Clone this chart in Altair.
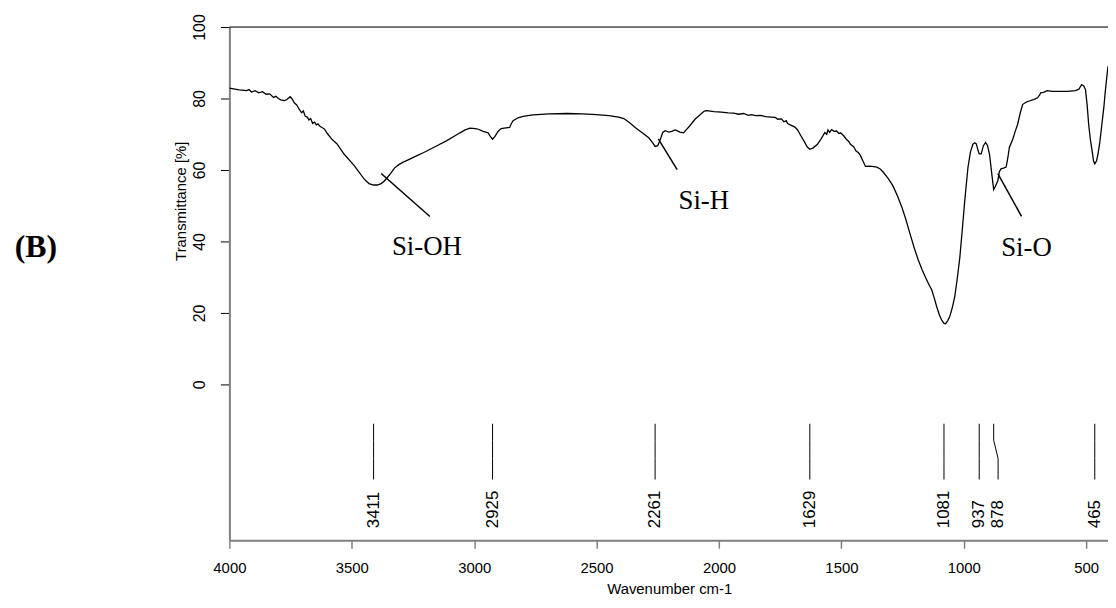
import altair as alt
import pandas as pd

# ---------------- data ----------------
WAVENUMBER = [
    4000, 3960, 3930, 3920, 3910, 3895, 3880, 3865, 3850, 3835,
    3820, 3810, 3800, 3790, 3775, 3765, 3752, 3745, 3735, 3725,
    3715, 3705, 3698, 3690, 3682, 3675, 3668, 3660, 3652, 3645,
    3638, 3630, 3620, 3612, 3600, 3580, 3560, 3531, 3490, 3450,
    3430, 3411, 3396, 3380, 3369, 3355, 3342, 3325, 3308, 3290,
    3274, 3240, 3206, 3160, 3112, 3080, 3058, 3037, 3017, 2995,
    2983, 2963, 2943, 2935, 2925, 2915, 2909, 2900, 2890, 2870,
    2855, 2848, 2841, 2821, 2800, 2760, 2693, 2620, 2558, 2500,
    2450, 2410, 2389, 2365, 2341, 2315, 2287, 2270, 2261, 2250,
    2240, 2230, 2220, 2205, 2193, 2180, 2172, 2160, 2145, 2120,
    2098, 2075, 2060, 2051, 2020, 1990, 1963, 1940, 1920, 1900,
    1880, 1868, 1850, 1830, 1810, 1787, 1770, 1760, 1745, 1735,
    1725, 1720, 1705, 1690, 1679, 1665, 1652, 1640, 1629, 1615,
    1598, 1585, 1575, 1568, 1560, 1555, 1548, 1540, 1530, 1520,
    1510, 1503, 1490, 1480, 1470, 1463, 1450, 1440, 1430, 1422,
    1412, 1402, 1390, 1375, 1355, 1340, 1328, 1310, 1295, 1287,
    1270, 1253, 1236, 1220, 1203, 1186, 1170, 1152, 1140, 1131,
    1120, 1111, 1100, 1091, 1081, 1075, 1066, 1057, 1047, 1037,
    1027, 1016, 1006, 996, 989, 983, 973, 963, 955, 949,
    942, 937, 929, 920, 911, 903, 895, 885, 878, 872,
    861, 855, 848, 838, 827, 820, 814, 800, 790, 780,
    770, 760, 745, 733, 715, 699, 690, 686, 675, 659,
    640, 611, 575, 544, 530, 519, 510, 503, 496, 490,
    483, 476, 470, 465, 458, 452, 444, 436, 428, 422,
    416, 411,
]
TRANSMITTANCE = [
    82.9, 82.4, 82.2, 82.5, 81.8, 82.2, 81.6, 81.9, 81.2, 81.3,
    80.3, 80.6, 80.0, 79.6, 79.4, 79.7, 80.5, 80.0, 78.8, 78.2,
    77.0, 76.0, 76.5, 75.0, 74.8, 74.0, 74.4, 73.0, 73.4, 72.6,
    72.9, 72.2, 71.8, 71.5, 70.2, 68.5, 67.3, 64.4, 61.2, 57.5,
    56.2, 55.8, 55.8, 56.2, 56.8, 57.9, 59.0, 60.6, 61.5, 62.2,
    62.7, 63.8, 64.9, 66.5, 68.2, 69.5, 70.4, 71.2, 71.7, 71.6,
    71.4, 70.8, 70.4, 69.5, 68.6, 69.4, 70.1, 71.0, 71.6, 71.8,
    71.9, 73.0, 73.8, 74.6, 75.0, 75.4, 75.7, 75.8, 75.7, 75.5,
    75.2, 74.8, 74.4, 73.2, 71.8, 70.5, 69.0, 67.5, 66.6, 66.8,
    68.5, 70.5, 71.0, 70.6, 70.8, 71.2, 71.0, 70.6, 70.4, 72.3,
    74.2, 75.6, 76.5, 76.6, 76.3, 76.2, 76.0, 75.9, 75.6, 75.8,
    75.3, 75.5, 75.2, 75.3, 74.9, 74.8, 74.7, 74.2, 74.3, 73.5,
    73.8, 73.0, 72.5, 72.0, 71.2, 69.5, 68.0, 66.5, 65.8, 66.2,
    67.2, 68.5, 69.6, 70.5, 70.0, 71.2, 70.5, 71.3, 70.8, 70.9,
    70.2, 70.4, 69.5, 68.6, 68.0, 67.2, 66.5, 65.3, 64.8, 64.0,
    62.5, 61.0, 61.1, 61.0, 60.8, 60.2, 59.3, 57.7, 56.2, 55.2,
    52.6, 49.6, 46.0, 42.2, 38.3, 34.8, 32.0, 29.3, 27.6, 26.5,
    24.0, 21.8, 19.5, 18.1, 17.1, 17.0, 17.8, 19.1, 21.5, 24.6,
    29.5, 35.7, 43.5, 51.5, 56.5, 60.7, 65.0, 67.2, 67.6, 67.3,
    65.5, 64.5, 64.5, 66.8, 67.7, 66.8, 64.4, 58.5, 54.5, 55.3,
    57.0, 59.5, 60.3, 60.5, 60.8, 63.5, 66.3, 68.6, 70.8, 72.8,
    75.8, 78.3, 79.0, 79.3, 79.7, 80.2, 81.0, 81.6, 81.7, 82.2,
    82.0, 82.0, 82.0, 82.2, 82.6, 83.9, 83.5, 82.5, 78.0, 72.8,
    68.5, 65.4, 62.5, 61.7, 62.5, 64.4, 68.0, 72.8, 77.5, 82.0,
    86.0, 89.0,
]

PEAKS = [3411, 2925, 2261, 1629, 1081, 937, 878, 465]
PEAK_LABEL_POS = [3411, 2925, 2261, 1629, 1081, 937, 860, 465]

ANNOT_TEXT = ["Si-OH", "Si-H", "Si-O"]
ANNOT_X1 = [3380, 2248, 861]
ANNOT_Y1 = [59.0, 68.7, 59.0]
ANNOT_X2 = [3181, 2171, 764]
ANNOT_Y2 = [47.0, 60.1, 47.0]
ANNOT_TX = [3193, 2062, 744]
ANNOT_TY = [38.4, 51.2, 38.1]

X_TICKS = [4000, 3500, 3000, 2500, 2000, 1500, 1000, 500]
Y_TICKS = [0, 20, 40, 60, 80, 100]

# ---------------- tables ----------------
spec = pd.DataFrame({"x": WAVENUMBER, "y": TRANSMITTANCE})

peak_rows = []
for p, lp in zip(PEAKS, PEAK_LABEL_POS):
    peak_rows += [
        {"peak": p, "o": 0, "x": p, "y": -11.0},
        {"peak": p, "o": 1, "x": p, "y": -15.6},
        {"peak": p, "o": 2, "x": lp, "y": -20.7},
        {"peak": p, "o": 3, "x": lp, "y": -26.6},
    ]
peak_lines = pd.DataFrame(peak_rows)
peak_text = pd.DataFrame({"x": PEAK_LABEL_POS, "y": [-40.2] * len(PEAKS),
                          "label": [str(p) for p in PEAKS]})

ann_rows = []
for i, t in enumerate(ANNOT_TEXT):
    ann_rows += [{"id": t, "o": 0, "x": ANNOT_X1[i], "y": ANNOT_Y1[i]},
                 {"id": t, "o": 1, "x": ANNOT_X2[i], "y": ANNOT_Y2[i]}]
ann_lines = pd.DataFrame(ann_rows)
ann_text = pd.DataFrame({"x": ANNOT_TX, "y": ANNOT_TY, "label": ANNOT_TEXT})
top_border = pd.DataFrame({"y": [100]})

# ---------------- scales / axes ----------------
xs = alt.Scale(domain=[411, 4000], reverse=True, nice=False, zero=False)
ys = alt.Scale(domain=[-43.6, 100], nice=False, zero=False)

FONT = "Liberation Sans"
xaxis = alt.Axis(
    values=X_TICKS, format="d", title="Wavenumber cm-1", grid=False,
    domainColor="#808080", domainWidth=2, tickColor="#808080", tickWidth=1.5,
    tickSize=8, labelFont=FONT, labelFontSize=15, labelColor="black",
    labelPadding=12, labelFlush=False, labelOverlap=False,
    titleFont=FONT, titleFontSize=15, titleFontWeight="normal", titleColor="black",
    titleX=443, titleY=49, titleBaseline="middle", titleAlign="center",
    titleAnchor="start",
)
yaxis = alt.Axis(
    values=Y_TICKS, format="d", title="Transmittance [%]", grid=False,
    domainColor="#808080", domainWidth=2, tickColor="black", tickWidth=1,
    tickSize=9, labelFont=FONT, labelFontSize=16, labelColor="black",
    labelAngle=270, labelAlign="center", labelBaseline="alphabetic",
    labelPadding=16, labelFlush=False, labelOverlap=False,
    titleFont=FONT, titleFontSize=15, titleFontWeight="normal", titleColor="black",
    titleAngle=270, titleX=-49, titleY=175, titleAlign="center",
    titleBaseline="middle", titleAnchor="start",
)


def X():
    return alt.X("x:Q", scale=xs, axis=xaxis)


def Y():
    return alt.Y("y:Q", scale=ys, axis=yaxis)


spectrum = alt.Chart(spec).mark_line(color="black", strokeWidth=1.3, clip=True).encode(
    x=X(), y=Y(), order="x:Q")

border = alt.Chart(top_border).mark_rule(color="black", strokeWidth=1).encode(y=Y())

plines = alt.Chart(peak_lines).mark_line(color="black", strokeWidth=1).encode(
    x=X(), y=Y(), detail="peak:N", order="o:Q")

ptext = alt.Chart(peak_text).mark_text(
    angle=270, align="left", baseline="middle", font=FONT, fontSize=17, color="black"
).encode(x=X(), y=Y(), text="label:N")

alines = alt.Chart(ann_lines).mark_line(color="black", strokeWidth=1.5).encode(
    x=X(), y=Y(), detail="id:N", order="o:Q")

atext = alt.Chart(ann_text).mark_text(
    font="Liberation Serif", fontSize=27, color="black", align="center", baseline="middle"
).encode(x=X(), y=Y(), text="label:N")

panel = alt.Chart(pd.DataFrame({"label": ["(B)"]})).mark_text(
    font="Liberation Serif", fontSize=32, fontWeight="bold", color="black",
    align="center", baseline="middle"
).encode(x=alt.value(-195), y=alt.value(222), text="label:N")

chart = alt.layer(border, spectrum, plines, ptext, alines, atext, panel).properties(
    width=885, height=517,
    padding={"left": 223, "top": 17, "right": 0, "bottom": 58},
    autosize=alt.AutoSizeParams(type="none"),
).configure_view(stroke=None).configure(background="white")

chart.save("out.html", embed_options={"renderer": "svg", "actions": False})
